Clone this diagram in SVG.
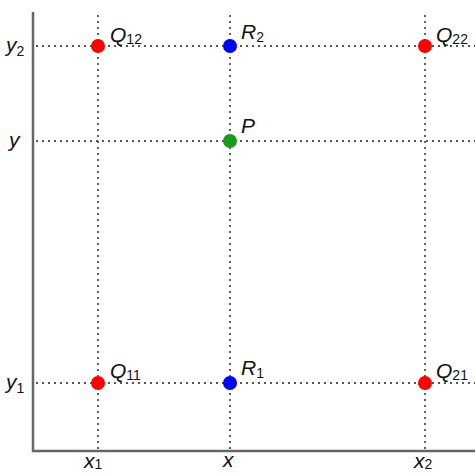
<svg xmlns="http://www.w3.org/2000/svg" width="475" height="474" viewBox="0 0 475 474">
<style>
.axis{stroke:#666;stroke-width:2.5;fill:none}
.grid{stroke:#555;stroke-width:1.8;stroke-dasharray:2 4;fill:none}
.lbl{font-family:"Liberation Sans",Arial,sans-serif;font-style:italic;font-size:21px;fill:#111}
.sub{font-size:14px;font-style:normal}
.red{fill:#f00}.blue{fill:#00f}.green{fill:#1a9b1a}
</style>
<rect width="475" height="474" fill="#fff"/>
<g id="connectors">
<line class="grid" x1="98" y1="15" x2="98" y2="450"/>
<line class="grid" x1="230" y1="15" x2="230" y2="450"/>
<line class="grid" x1="425" y1="15" x2="425" y2="450"/>
<line class="grid" x1="36" y1="46" x2="475" y2="46"/>
<line class="grid" x1="36" y1="141" x2="475" y2="141"/>
<line class="grid" x1="36" y1="383" x2="475" y2="383"/>
</g>
<g id="axes">
<path class="axis" d="M33 12 V451 H475"/>
<text class="lbl" x="6" y="52">y<tspan class="sub" dy="4">2</tspan></text>
<text class="lbl" x="9" y="147">y</text>
<text class="lbl" x="6" y="389">y<tspan class="sub" dy="4">1</tspan></text>
<text class="lbl" x="84" y="468">x<tspan class="sub" dy="1">1</tspan></text>
<text class="lbl" x="223" y="467">x</text>
<text class="lbl" x="414" y="468">x<tspan class="sub" dy="1">2</tspan></text>
</g>
<g id="Q12"><circle class="red" cx="98" cy="46" r="7"/><text class="lbl" x="110" y="42">Q<tspan class="sub" dy="2">12</tspan></text></g>
<g id="R2"><circle class="blue" cx="230" cy="46" r="7"/><text class="lbl" x="241" y="39">R<tspan class="sub" dy="3">2</tspan></text></g>
<g id="Q22"><circle class="red" cx="425" cy="46" r="7"/><text class="lbl" x="436" y="42">Q<tspan class="sub" dy="2">22</tspan></text></g>
<g id="P"><circle class="green" cx="230" cy="141" r="7"/><text class="lbl" x="241" y="133">P</text></g>
<g id="Q11"><circle class="red" cx="98" cy="383" r="7"/><text class="lbl" x="110" y="378">Q<tspan class="sub" dy="2">11</tspan></text></g>
<g id="R1"><circle class="blue" cx="230" cy="383" r="7"/><text class="lbl" x="241" y="375">R<tspan class="sub" dy="3">1</tspan></text></g>
<g id="Q21"><circle class="red" cx="425" cy="383" r="7"/><text class="lbl" x="436" y="378">Q<tspan class="sub" dy="2">21</tspan></text></g>
</svg>
